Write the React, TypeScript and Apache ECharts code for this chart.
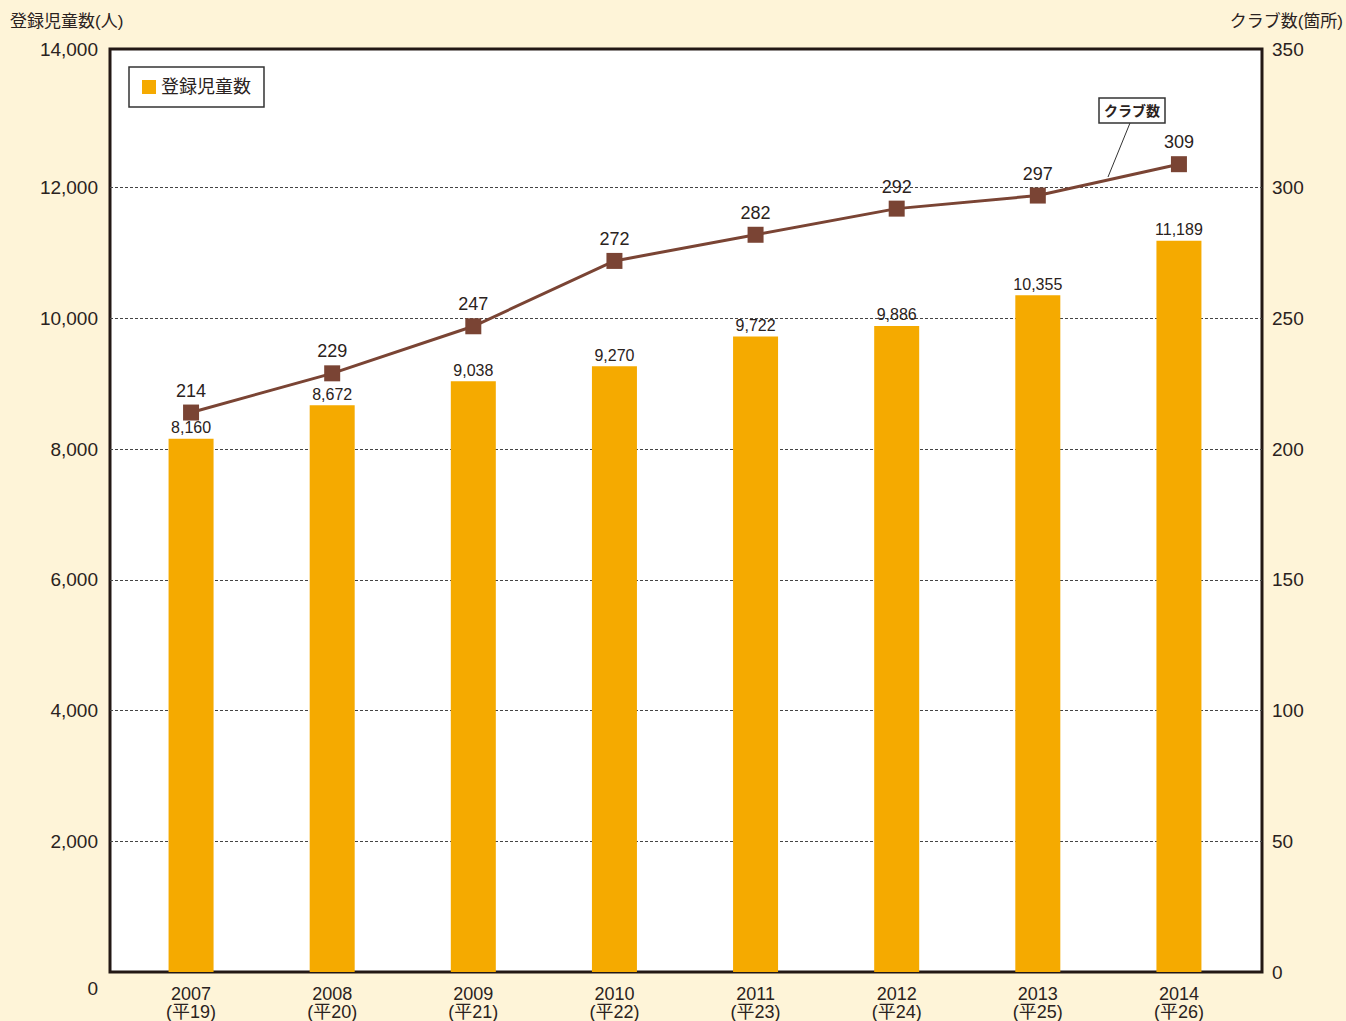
import React, { useEffect, useRef } from "react";
import * as echarts from "echarts";

const years = ["2007", "2008", "2009", "2010", "2011", "2012", "2013", "2014"];
const heisei = ["平19", "平20", "平21", "平22", "平23", "平24", "平25", "平26"];
const children = [8160, 8672, 9038, 9270, 9722, 9886, 10355, 11189];
const clubs = [214, 229, 247, 272, 282, 292, 297, 309];
const leftMax = 14000;
const leftInterval = 2000;
const rightMax = 350;
const rightInterval = 50;

const FONT = "'Liberation Sans', 'Noto Sans CJK JP', sans-serif";
const TEXT = "#2a2220";

export default function App() {
  const ref = useRef<HTMLDivElement>(null);
  useEffect(() => {
    if (!ref.current) return;
    const chart = echarts.init(ref.current, undefined, { renderer: "svg" });
    const cats = years.map((y, i) => `${y}\n(${heisei[i]})`);
    const fmt = (v: number) => v.toLocaleString("en-US");
    chart.setOption({
      animation: false,
      backgroundColor: "#FEF4D8",
      textStyle: { fontFamily: FONT },
      legend: {
        left: 129,
        top: 67,
        data: ["登録児童数"],
        icon: "rect",
        itemWidth: 14,
        itemHeight: 14,
        itemGap: 10,
        backgroundColor: "#fff",
        borderColor: "#333",
        borderWidth: 1.5,
        padding: [11, 13, 11, 13],
        textStyle: { fontSize: 18, color: TEXT, fontFamily: FONT },
      },
      grid: [
        {
          left: 110,
          right: 84,
          top: 49,
          bottom: 49,
          show: true,
          backgroundColor: "#ffffff",
          borderColor: "#231815",
          borderWidth: 3,
        },
        { left: 110, right: 84, top: 57, bottom: 49 },
        { left: 120.5, right: 96.5, top: 57, bottom: 49 },
      ],
      xAxis: [
        { gridIndex: 0, type: "category", data: cats, show: false },
        { gridIndex: 1, type: "category", data: cats, show: false },
        {
          gridIndex: 2,
          type: "category",
          data: cats,
          axisLine: { show: false },
          axisTick: { show: false },
          axisLabel: {
            margin: 13,
            fontSize: 18,
            lineHeight: 18,
            color: TEXT,
            fontFamily: FONT,
          },
        },
      ],
      yAxis: [
        { gridIndex: 0, type: "value", show: false, splitLine: { show: false } },
        {
          gridIndex: 1,
          type: "value",
          min: 0,
          max: leftMax,
          interval: leftInterval,
          axisLine: { show: false },
          axisTick: { show: false },
          axisLabel: {
            margin: 12,
            fontSize: 19,
            color: TEXT,
            fontFamily: FONT,
            formatter: (v: number) =>
              v === 0 ? "{z|0}" : v === leftMax ? `{t|${fmt(v)}}` : fmt(v),
            rich: {
              z: { fontSize: 19, color: TEXT, padding: [32, 0, 0, 0] },
              t: { fontSize: 19, color: TEXT, padding: [0, 0, 16, 0] },
            },
          },
          splitLine: {
            show: true,
            showMaxLine: false,
            showMinLine: false,
            lineStyle: { color: "#444", type: [3, 2], width: 1 },
          },
        },
        {
          gridIndex: 1,
          type: "value",
          position: "right",
          min: 0,
          max: rightMax,
          interval: rightInterval,
          axisLine: { show: false },
          axisTick: { show: false },
          splitLine: { show: false },
          axisLabel: {
            margin: 10,
            fontSize: 19,
            color: TEXT,
            fontFamily: FONT,
            formatter: (v: number) => (v === rightMax ? `{t|${v}}` : `${v}`),
            rich: { t: { fontSize: 19, color: TEXT, padding: [0, 0, 16, 0] } },
          },
        },
        { gridIndex: 2, type: "value", min: 0, max: leftMax, show: false, splitLine: { show: false } },
        { gridIndex: 2, type: "value", min: 0, max: rightMax, show: false, splitLine: { show: false } },
      ],
      series: [
        {
          name: "登録児童数",
          type: "bar",
          xAxisIndex: 2,
          yAxisIndex: 3,
          data: children,
          barWidth: 45,
          itemStyle: { color: "#F5AA00" },
          label: {
            show: true,
            position: "top",
            distance: 3,
            fontSize: 16,
            color: TEXT,
            fontFamily: FONT,
            formatter: (p: any) => fmt(p.value),
          },
          z: 2,
        },
        {
          name: "クラブ数",
          type: "line",
          xAxisIndex: 2,
          yAxisIndex: 4,
          data: clubs,
          symbol: "rect",
          symbolSize: 16,
          lineStyle: { color: "#7A4434", width: 3 },
          itemStyle: { color: "#7A4434" },
          label: {
            show: true,
            position: "top",
            distance: 5,
            fontSize: 18,
            color: TEXT,
            fontFamily: FONT,
          },
          z: 3,
        },
      ],
      graphic: [
        {
          type: "text",
          left: 10,
          top: 13,
          style: { text: "登録児童数(人)", fontSize: 17, fill: TEXT, fontFamily: FONT },
        },
        {
          type: "text",
          right: 3,
          top: 13,
          style: { text: "クラブ数(箇所)", fontSize: 17, fill: TEXT, fontFamily: FONT },
        },
        {
          type: "line",
          shape: { x1: 1130, y1: 123, x2: 1108, y2: 177 },
          style: { stroke: "#333", lineWidth: 1 },
          z: 10,
        },
        {
          type: "rect",
          shape: { x: 1099, y: 98, width: 66, height: 25 },
          style: { fill: "#fff", stroke: "#333", lineWidth: 1.5 },
          z: 10,
        },
        {
          type: "text",
          x: 1132,
          y: 111,
          style: {
            text: "クラブ数",
            fontSize: 14,
            fontWeight: "bold",
            fill: TEXT,
            fontFamily: FONT,
            align: "center",
            verticalAlign: "middle",
          },
          z: 11,
        },
      ],
    });
    return () => chart.dispose();
  }, []);
  return (
    <div
      ref={ref}
      style={{ position: "absolute", left: 0, top: 0, width: 1346, height: 1021 }}
    />
  );
}
